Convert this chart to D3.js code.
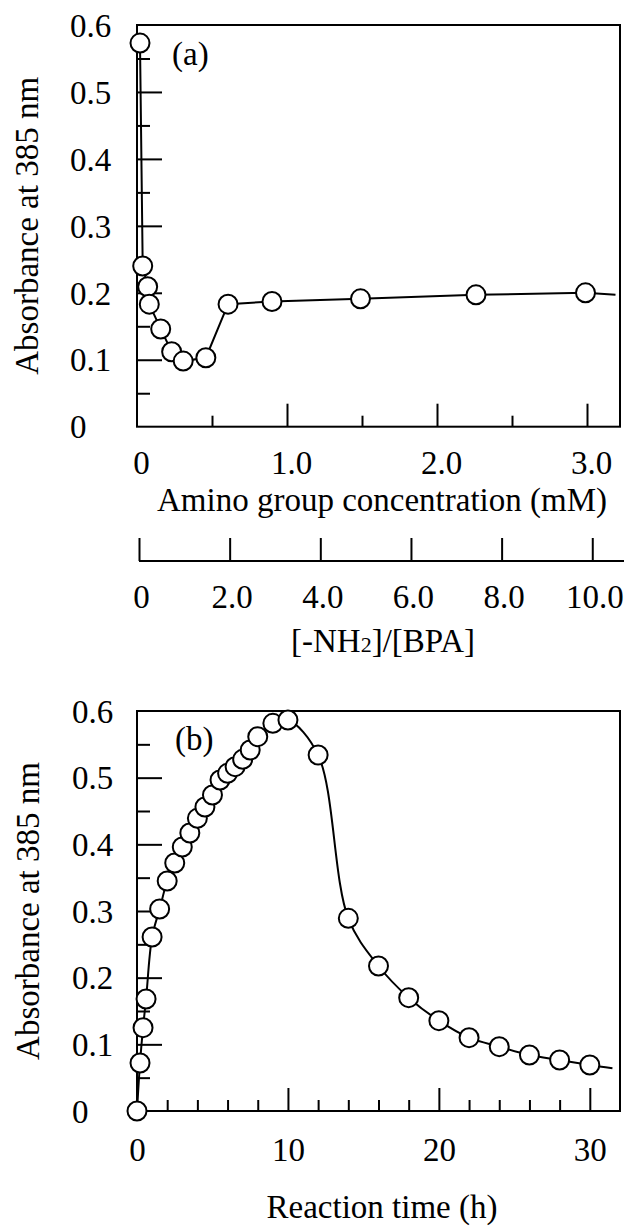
<!DOCTYPE html>
<html>
<head>
<meta charset="utf-8">
<script src="https://cdn.jsdelivr.net/npm/d3@7"></script>
<style>
  body { margin: 0; background: #fff; }
  svg text { font-family: "Liberation Serif", "Times New Roman", serif; fill: #000; }
</style>
</head>
<body>
<div id="chart"></div>
<script>
// (a) absorbance vs amino group concentration (mM)
const concA = [0.02, 0.038, 0.071, 0.082, 0.158, 0.231, 0.308, 0.459, 0.607, 0.9, 1.49, 2.26, 2.99];
const absA = [0.573, 0.240, 0.209, 0.183, 0.146, 0.112, 0.098, 0.103, 0.183, 0.187, 0.191, 0.197, 0.200];
const lineEndA = [3.19, 0.197];

// (b) absorbance vs reaction time (h)
const timeB = [0, 0.2, 0.4, 0.6, 1, 1.5, 2, 2.5, 3, 3.5, 4, 4.5, 5, 5.5, 6, 6.5, 7, 7.5, 8, 9, 10,
  12, 14, 16, 18, 20, 22, 24, 26, 28, 30];
const absB = [0, 0.072, 0.125, 0.168, 0.261, 0.303, 0.345, 0.372, 0.396, 0.417, 0.439, 0.456, 0.474,
  0.4965, 0.5065, 0.5165, 0.5275, 0.5415, 0.5615, 0.5815, 0.5865,
  0.534, 0.289, 0.2175, 0.170, 0.1355, 0.110, 0.0965, 0.084, 0.0765, 0.069];
const lineEndB = [31.5, 0.064];

// ticks
const yLabelTicks = [0, 0.1, 0.2, 0.3, 0.4, 0.5, 0.6];
const yMajor = [0.1, 0.2, 0.3, 0.4, 0.5];
const yMinor = [0.05, 0.15, 0.25, 0.35, 0.45, 0.55];
const xLabelA = [0, 1, 2, 3];
const xMajorA = [1, 2, 3];
const xMinorA = [0.5, 1.5, 2.5];
const ratioTicks = [0, 2, 4, 6, 8, 10];
const xLabelB = [0, 10, 20, 30];
const xMajorB = [10, 20, 30];
const xMinorB = [2, 4, 6, 8, 12, 14, 16, 18, 22, 24, 26, 28];

const FONT = 'Liberation Serif, Times New Roman, serif';
const FS = 33;

const svg = d3.select('#chart')
  .append('svg')
  .attr('width', 624)
  .attr('height', 1229)
  .attr('font-family', FONT);

const fmt1 = d => (d === 0 ? '0' : d3.format('.1f')(d));

function frame(x, y) {
  svg.append('rect')
    .attr('x', x.range()[0])
    .attr('y', y.range()[1])
    .attr('width', x.range()[1] - x.range()[0])
    .attr('height', y.range()[0] - y.range()[1])
    .attr('fill', 'none')
    .attr('stroke', '#000')
    .attr('stroke-width', 2);
}

// inward tick marks on the left axis
function ticksLeft(x, y, values, len) {
  svg.append('g')
    .attr('transform', `translate(${x.range()[0]},0)`)
    .call(d3.axisLeft(y).tickValues(values).tickSize(-len).tickFormat(''))
    .call(g => { g.select('.domain').remove(); g.selectAll('text').remove(); })
    .selectAll('line').attr('stroke', '#000').attr('stroke-width', 2);
}

// inward (upward) tick marks on a bottom axis
function ticksBottom(x, yPos, values, len) {
  svg.append('g')
    .attr('transform', `translate(0,${yPos})`)
    .call(d3.axisBottom(x).tickValues(values).tickSize(-len).tickFormat(''))
    .call(g => { g.select('.domain').remove(); g.selectAll('text').remove(); })
    .selectAll('line').attr('stroke', '#000').attr('stroke-width', 2);
}

function yLabels(x, y, values, left) {
  svg.append('g')
    .attr('transform', `translate(${x.range()[0]},0)`)
    .call(d3.axisLeft(y).tickValues(values).tickSize(0).tickFormat(fmt1))
    .call(g => { g.select('.domain').remove(); g.selectAll('line').remove(); })
    .attr('font-family', FONT)
    .attr('font-size', FS)
    .selectAll('text')
    .attr('x', left - x.range()[0])
    .attr('text-anchor', 'start')
    .attr('dy', '0.34em');
}

function xLabels(x, yPos, values, format, baseline, dx) {
  svg.append('g')
    .attr('transform', `translate(0,${yPos})`)
    .call(d3.axisBottom(x).tickValues(values).tickSize(0).tickFormat(format))
    .call(g => { g.select('.domain').remove(); g.selectAll('line').remove(); })
    .attr('font-family', FONT)
    .attr('font-size', FS)
    .selectAll('text')
    .attr('y', baseline)
    .attr('dy', 0)
    .attr('dx', dx);
}

function yTitle(cx, cy) {
  svg.append('text')
    .attr('transform', `translate(${cx},${cy}) rotate(-90)`)
    .attr('text-anchor', 'middle')
    .attr('font-size', FS)
    .text('Absorbance at 385 nm');
}

function points(x, y, xs, ys) {
  svg.append('g')
    .selectAll('circle')
    .data(d3.zip(xs, ys))
    .enter()
    .append('circle')
    .attr('cx', d => x(d[0]))
    .attr('cy', d => y(d[1]))
    .attr('r', 9.5)
    .attr('fill', '#fff')
    .attr('stroke', '#000')
    .attr('stroke-width', 2);
}

// ---------------- panel (a)
const xA = d3.scaleLinear().domain([0, 3.22]).range([137, 620]);
const yA = d3.scaleLinear().domain([0, 0.6]).range([426.7, 25]);

frame(xA, yA);
ticksLeft(xA, yA, yMajor, 25);
ticksLeft(xA, yA, yMinor, 13);
ticksBottom(xA, yA(0), xMajorA, 23);
ticksBottom(xA, yA(0), xMinorA, 11);
yLabels(xA, yA, yLabelTicks, 70);
xLabels(xA, yA(0), xLabelA, fmt1, 47, 4);
yTitle(38, (yA(0) + yA(0.6)) / 2);

svg.append('text')
  .attr('x', 382).attr('y', 511)
  .attr('text-anchor', 'middle')
  .attr('font-size', FS)
  .text('Amino group concentration (mM)');

svg.append('text')
  .attr('x', 172).attr('y', 65)
  .attr('font-size', FS)
  .text('(a)');

const lineA = d3.line().x(d => xA(d[0])).y(d => yA(d[1]));
svg.append('path')
  .datum(d3.zip(concA, absA).concat([lineEndA]))
  .attr('d', lineA)
  .attr('fill', 'none')
  .attr('stroke', '#000')
  .attr('stroke-width', 2);
points(xA, yA, concA, absA);

// secondary axis: [-NH2]/[BPA]
const xR = d3.scaleLinear().domain([0, 10.7]).range([139, 624]);
const yR = 561;
svg.append('line')
  .attr('x1', xR(0)).attr('x2', xR.range()[1])
  .attr('y1', yR).attr('y2', yR)
  .attr('stroke', '#000').attr('stroke-width', 2);
ticksBottom(xR, yR, ratioTicks, 23);
xLabels(xR, yR, ratioTicks, fmt1, 47, 2);

const ratioTitle = svg.append('text')
  .attr('x', 383).attr('y', 652)
  .attr('text-anchor', 'middle')
  .attr('font-size', FS);
ratioTitle.append('tspan').text('[-NH');
ratioTitle.append('tspan').attr('font-size', 22).text('2');
ratioTitle.append('tspan').text(']/[BPA]');

// ---------------- panel (b)
const xB = d3.scaleLinear().domain([0, 32]).range([137, 620]);
const yB = d3.scaleLinear().domain([0, 0.6]).range([1111, 711]);

frame(xB, yB);
ticksLeft(xB, yB, yMajor, 25);
ticksLeft(xB, yB, yMinor, 13);
ticksBottom(xB, yB(0), xMajorB, 23);
ticksBottom(xB, yB(0), xMinorB, 11);
yLabels(xB, yB, yLabelTicks, 72);
xLabels(xB, yB(0), xLabelB, d3.format('d'), 50, 0);
yTitle(39, (yB(0) + yB(0.6)) / 2);

svg.append('text')
  .attr('x', 382).attr('y', 1218)
  .attr('text-anchor', 'middle')
  .attr('font-size', FS)
  .text('Reaction time (h)');

svg.append('text')
  .attr('x', 175).attr('y', 750)
  .attr('font-size', FS)
  .text('(b)');

const lineB = d3.line()
  .x(d => xB(d[0]))
  .y(d => yB(d[1]))
  .curve(d3.curveCatmullRom.alpha(0.5));
svg.append('path')
  .datum(d3.zip(timeB, absB).concat([lineEndB]))
  .attr('d', lineB)
  .attr('fill', 'none')
  .attr('stroke', '#000')
  .attr('stroke-width', 2);
points(xB, yB, timeB, absB);
</script>
</body>
</html>
